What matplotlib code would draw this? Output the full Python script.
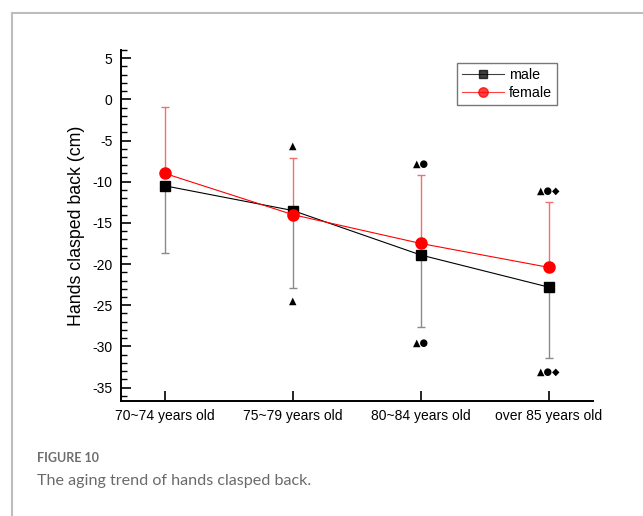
import matplotlib
matplotlib.use("Agg")
import matplotlib.pyplot as plt
from matplotlib.lines import Line2D
import numpy as np

categories = ["70~74 years old", "75~79 years old", "80~84 years old", "over 85 years old"]
male_mean = [-10.5, -13.5, -18.9, -22.8]
male_sd = [8.2, 9.4, 8.8, 8.6]
female_mean = [-9.0, -14.0, -17.5, -20.4]
female_sd = [8.1, 6.9, 8.3, 7.9]
sig_symbols = ["", "▲", "▲●", "▲●◆"]
sig_upper = [None, -5.6, -7.8, -11.1]
sig_lower = [None, -24.5, -29.6, -33.1]
yticks = [5, 0, -5, -10, -15, -20, -25, -30, -35]

plt.rcParams['font.family'] = ['Liberation Sans', 'DejaVu Sans']

fig = plt.figure(figsize=(6.43, 5.16), dpi=100)
ax = fig.add_axes([121/643, 1-400.7/516, (593.3-121)/643, (400.7-50)/516])

x = np.arange(1, len(categories)+1)

# error bars (one-sided)
ax.errorbar(x, male_mean, yerr=[male_sd, [0]*4], fmt='none', ecolor='#8a8a8a',
            elinewidth=1.0, capsize=3, capthick=1.0, zorder=2)
ax.errorbar(x, female_mean, yerr=[[0]*4, female_sd], fmt='none', ecolor='#f07070',
            elinewidth=1.0, capsize=3, capthick=1.0, zorder=2)

lm, = ax.plot(x, male_mean, color='black', lw=0.8, marker='s', markersize=6.5,
              markerfacecolor='black', markeredgecolor='black', zorder=3, label='male')
lf, = ax.plot(x, female_mean, color='red', lw=0.8, marker='o', markersize=8,
              markerfacecolor='red', markeredgecolor='red', zorder=4, label='female')

for xi, s, yu, yl in zip(x, sig_symbols, sig_upper, sig_lower):
    if yu is not None:
        ax.text(xi, yu, s, ha='center', va='center', fontsize=7,
                family=['DejaVu Sans'], color='black')
    if yl is not None:
        ax.text(xi, yl, s, ha='center', va='center', fontsize=7,
                family=['DejaVu Sans'], color='black')

ax.set_xlim(0.656, 4.35)
ax.set_ylim(-36.6, 6.0)
ax.set_xticks(x)
ax.set_xticklabels(categories, fontsize=10)
ax.set_yticks(yticks)
ax.set_yticklabels([str(t) for t in yticks], fontsize=10)
ax.set_yticks(np.arange(-36, 6.5, 1), minor=True)
ax.tick_params(axis='y', which='major', direction='in', length=7, width=1.2, pad=6)
ax.tick_params(axis='y', which='minor', direction='in', length=4, width=1.0)
ax.tick_params(axis='x', which='major', direction='in', length=7, width=1.2, pad=6)
ax.tick_params(axis='x', which='minor', bottom=False)

for side in ['top', 'right']:
    ax.spines[side].set_visible(False)
for side in ['left', 'bottom']:
    ax.spines[side].set_linewidth(1.4)

ax.set_ylabel("Hands clasped back (cm)", fontsize=12.8, labelpad=5)

leg = ax.legend(handles=[lm, lf], loc='upper right', bbox_to_anchor=(0.923, 0.963),
                borderaxespad=0, fontsize=10.3, frameon=True, fancybox=False,
                handlelength=2.9, handletextpad=0.35, labelspacing=0.3,
                borderpad=0.35, markerscale=0.85)
leg.get_frame().set_edgecolor('#555555')
leg.get_frame().set_linewidth(1.0)
for h in leg.get_lines():
    h.set_alpha(0.75)

# outer frame
fig.add_artist(Line2D([12/643, 12/643], [0, 1-13/516], transform=fig.transFigure,
                      color='#bdbdbd', lw=1.5))
fig.add_artist(Line2D([12/643, 1], [1-13/516, 1-13/516], transform=fig.transFigure,
                      color='#bdbdbd', lw=1.5))

fig.text(37/643, 1-458/516, "FIGURE 10", fontsize=9, color='#6e6e6e',
         family=['Lato', 'DejaVu Sans'], fontweight='bold', va='center', ha='left')
fig.text(37/643, 1-481/516, "The aging trend of hands clasped back.", fontsize=11.6,
         color='#6a6a6a', family=['Lato', 'DejaVu Sans'], fontweight='normal',
         va='center', ha='left')

fig.savefig("out.png", dpi=100)
